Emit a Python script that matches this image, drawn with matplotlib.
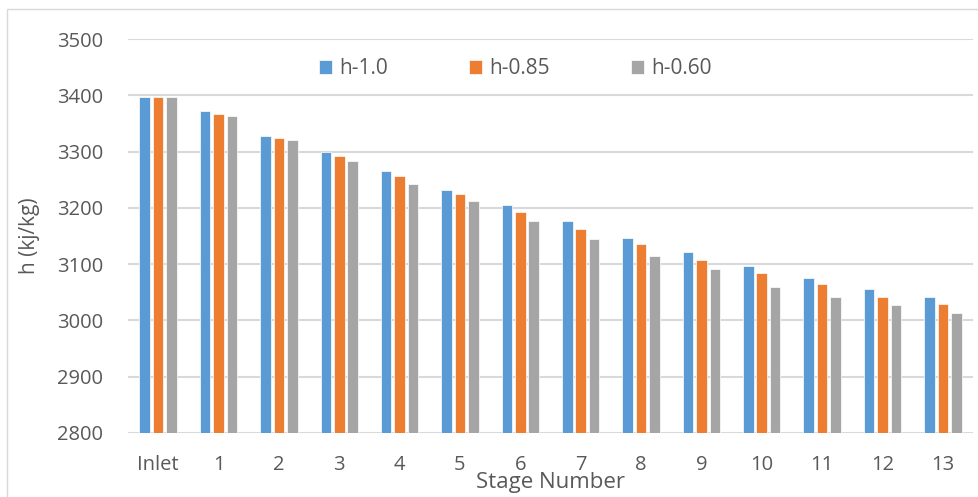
import matplotlib.pyplot as plt
import numpy as np
from matplotlib.patches import Rectangle

stages = ['Inlet', '1', '2', '3', '4', '5', '6', '7', '8', '9', '10', '11', '12', '13']
h_100 = [3397, 3372, 3328, 3299, 3266, 3231, 3205, 3177, 3147, 3121, 3097, 3075, 3056, 3041]
h_085 = [3397, 3367, 3325, 3292, 3256, 3224, 3192, 3162, 3136, 3108, 3084, 3064, 3041, 3029]
h_060 = [3397, 3363, 3320, 3284, 3242, 3213, 3177, 3145, 3115, 3091, 3060, 3041, 3027, 3014]

series = [
    ('h-1.0', h_100, '#5b9bd5'),
    ('h-0.85', h_085, '#ed7d31'),
    ('h-0.60', h_060, '#a5a5a5'),
]

plt.rcParams['font.family'] = ['Open Sans', 'DejaVu Sans']
txt = '#595959'

fig = plt.figure(figsize=(9.79, 4.97), dpi=100)
ax = fig.add_axes([0.1307, 0.1288, 0.8632, 0.7927])

x = np.arange(len(stages))
w = 0.175
off = 0.222
for i, (name, vals, col) in enumerate(series):
    ax.bar(x + (i - 1) * off, np.array(vals) - 2800, bottom=2800, width=w,
           color=col, edgecolor='white', linewidth=0.5, label=name, zorder=3)

ax.set_ylim(2800, 3500)
ax.set_xlim(-0.5, len(stages) - 0.5)
ax.set_yticks(range(2800, 3501, 100))
ax.set_xticks(x)
ax.set_xticklabels(stages)
ax.grid(axis='y', color='#d9d9d9', linewidth=1.5, zorder=0)
for s in ax.spines.values():
    s.set_visible(False)
ax.tick_params(length=0, labelsize=14.5, colors=txt)
ax.tick_params(axis='x', pad=16)
ax.tick_params(axis='y', pad=18)

ax.set_ylabel('h (kj/kg)', fontsize=15, color=txt)
ax.yaxis.set_label_coords(-0.104, 0.5)
ax.set_xlabel('Stage Number', fontsize=16, color=txt)
ax.xaxis.label.set_va('center')
ax.xaxis.set_label_coords(0.5, -0.126)

ax.legend(loc='center', bbox_to_anchor=(0.4586, 0.924), ncol=3, frameon=False,
          fontsize=15, labelcolor=txt, handlelength=0.63, handleheight=0.63,
          columnspacing=3.9, handletextpad=0.34)

fig.patches.append(Rectangle((7 / 979, -0.01), 1.0, 1 - 9 / 497 + 0.01,
                             transform=fig.transFigure, fill=False,
                             edgecolor='#d9d9d9', linewidth=1))

plt.savefig('out.png', dpi=100)
